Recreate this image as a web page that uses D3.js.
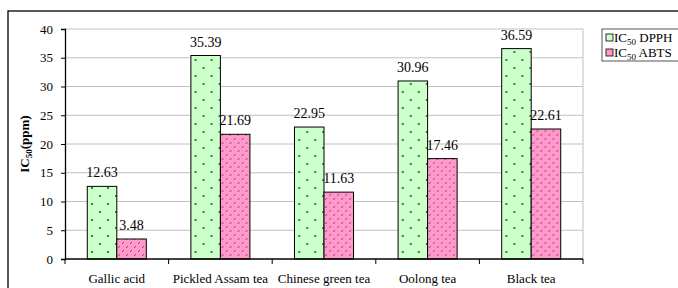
<!DOCTYPE html>
<html>
<head>
<meta charset="utf-8">
<script src="https://cdn.jsdelivr.net/npm/d3@7"></script>
<style>
  body { margin: 0; background: #fff; }
  svg text { font-family: 'Liberation Serif', 'Times New Roman', 'DejaVu Serif', serif !important; fill: #000; }
</style>
</head>
<body>
<svg id="chart" width="678" height="288"></svg>
<script>
const categories = ['Gallic acid', 'Pickled Assam tea', 'Chinese green tea', 'Oolong tea', 'Black tea']
const dpphValues = [12.63, 35.39, 22.95, 30.96, 36.59]
const abtsValues = [3.48, 21.69, 11.63, 17.46, 22.61]
const seriesNames = ['DPPH', 'ABTS']
const yTicks = [0, 5, 10, 15, 20, 25, 30, 35, 40]

const serif = "'Liberation Serif', 'Times New Roman', serif"
const svg = d3.select('#chart').attr('font-family', serif)
const plot = { left: 65, right: 583, top: 29, bottom: 259 }

// patterns
const defs = svg.append('defs')
let dots = defs.append('pattern')
  .attr('id', 'dots')
  .attr('patternUnits', 'userSpaceOnUse')
  .attr('width', 16).attr('height', 16)
dots.append('rect').attr('width', 16).attr('height', 16).attr('fill', '#ccffcc')
dots.append('rect').attr('x', 2).attr('y', 3).attr('width', 2).attr('height', 2).attr('fill', '#1a9a1a')
dots.append('rect').attr('x', 10).attr('y', 11).attr('width', 2).attr('height', 2).attr('fill', '#1a9a1a')

let hatch = defs.append('pattern')
  .attr('id', 'hatch')
  .attr('patternUnits', 'userSpaceOnUse')
  .attr('width', 8).attr('height', 8)
hatch.append('rect').attr('width', 8).attr('height', 8).attr('fill', '#ff99cc')
hatch.append('line').attr('x1', 1).attr('y1', 4).attr('x2', 3).attr('y2', 2)
  .attr('stroke', '#993366').attr('stroke-width', 0.9)
hatch.append('line').attr('x1', 5).attr('y1', 8).attr('x2', 7).attr('y2', 6)
  .attr('stroke', '#993366').attr('stroke-width', 0.9)

const fills = { DPPH: 'url(#dots)', ABTS: 'url(#hatch)' }

// outer frame
svg.append('rect')
  .attr('x', 8).attr('y', 11)
  .attr('width', 700).attr('height', 300)
  .attr('fill', 'none')
  .attr('stroke', '#000')
  .attr('stroke-width', 1.3)

const x0 = d3.scaleBand().domain(categories).range([plot.left, plot.right]).padding(0)
const x1 = d3.scaleBand().domain(seriesNames).range([0, x0.bandwidth()])
  .paddingInner(0).paddingOuter(0.755)
const y = d3.scaleLinear().domain([0, 40]).range([plot.bottom, plot.top])

// gridlines
svg.append('g')
  .selectAll('line')
  .data(yTicks.filter(d => d > 0))
  .join('line')
  .attr('x1', plot.left).attr('x2', plot.right)
  .attr('y1', d => y(d)).attr('y2', d => y(d))
  .attr('stroke', '#c0c0c0').attr('stroke-width', 1)

svg.append('line')
  .attr('x1', plot.right).attr('x2', plot.right)
  .attr('y1', plot.top).attr('y2', plot.bottom)
  .attr('stroke', '#c0c0c0')

// bars
const rows = categories.map((c, i) => ({ cat: c, DPPH: dpphValues[i], ABTS: abtsValues[i] }))
const groups = svg.append('g')
  .selectAll('g')
  .data(rows)
  .join('g')
  .attr('transform', d => `translate(${x0(d.cat)},0)`)

groups.selectAll('rect')
  .data(d => seriesNames.map(s => ({ key: s, value: d[s] })))
  .join('rect')
  .attr('x', d => x1(d.key))
  .attr('y', d => y(d.value))
  .attr('width', x1.bandwidth())
  .attr('height', d => y(0) - y(d.value))
  .attr('fill', d => fills[d.key])
  .attr('stroke', '#000')
  .attr('stroke-width', 1)

groups.selectAll('text.val')
  .data(d => seriesNames.map(s => ({ key: s, value: d[s] })))
  .join('text')
  .attr('class', 'val')
  .attr('x', d => x1(d.key) + x1.bandwidth() / 2)
  .attr('y', d => y(d.value) - 9)
  .attr('text-anchor', 'middle')
  .style('font-size', '14px')
  .text(d => d.value.toFixed(2))

// y axis
const yAxis = svg.append('g')
  .attr('transform', `translate(${plot.left},0)`)
  .call(d3.axisLeft(y).tickValues(yTicks).tickSize(4).tickPadding(8))
yAxis.attr('font-family', serif)
yAxis.select('.domain').attr('stroke', '#000').attr('stroke-width', 1.3)
yAxis.selectAll('.tick line').attr('stroke', '#000')
yAxis.selectAll('.tick text')
  .style('font-size', '13px')

// x axis
const xAxis = svg.append('g')
  .attr('transform', `translate(0,${plot.bottom})`)
xAxis.append('line')
  .attr('x1', plot.left).attr('x2', plot.right)
  .attr('stroke', '#000').attr('stroke-width', 1.3)
xAxis.selectAll('line.tk')
  .data(categories.map(c => x0(c)).concat([plot.right]))
  .join('line')
  .attr('class', 'tk')
  .attr('x1', d => d).attr('x2', d => d)
  .attr('y1', 0).attr('y2', 5)
  .attr('stroke', '#000')
xAxis.selectAll('text')
  .data(categories)
  .join('text')
  .attr('x', d => x0(d) + x0.bandwidth() / 2)
  .attr('y', 24)
  .attr('text-anchor', 'middle')
  .style('font-size', '13px')
  .text(d => d)

// y title
const yTitle = svg.append('text')
  .attr('transform', `translate(29,${(plot.top + plot.bottom) / 2}) rotate(-90)`)
  .attr('text-anchor', 'middle')
  .style('font-size', '13px')
  .style('font-weight', 'bold')
yTitle.append('tspan').text('IC')
yTitle.append('tspan').attr('dy', 3).style('font-size', '9px').text('50')
yTitle.append('tspan').attr('dy', -3).text('(ppm)')

// legend
const legend = svg.append('g').attr('transform', 'translate(602,29)')
legend.append('rect')
  .attr('width', 80).attr('height', 32)
  .attr('fill', '#fff').attr('stroke', '#555').attr('stroke-width', 1)
const items = legend.selectAll('g.item')
  .data(seriesNames)
  .join('g')
  .attr('class', 'item')
  .attr('transform', (d, i) => `translate(4,${10 + i * 15})`)
items.append('rect')
  .attr('x', 0).attr('y', -5)
  .attr('width', 7).attr('height', 7)
  .attr('fill', d => d === 'DPPH' ? '#ccffcc' : '#ff99cc')
  .attr('stroke', '#000').attr('stroke-width', 0.8)
const lt = items.append('text')
  .attr('x', 8).attr('y', 3)
  .style('font-size', '13px')
lt.append('tspan').text('IC')
lt.append('tspan').attr('dy', 3).style('font-size', '9px').text('50')
lt.append('tspan').attr('dy', -3).text(d => ' ' + d)
</script>
</body>
</html>
